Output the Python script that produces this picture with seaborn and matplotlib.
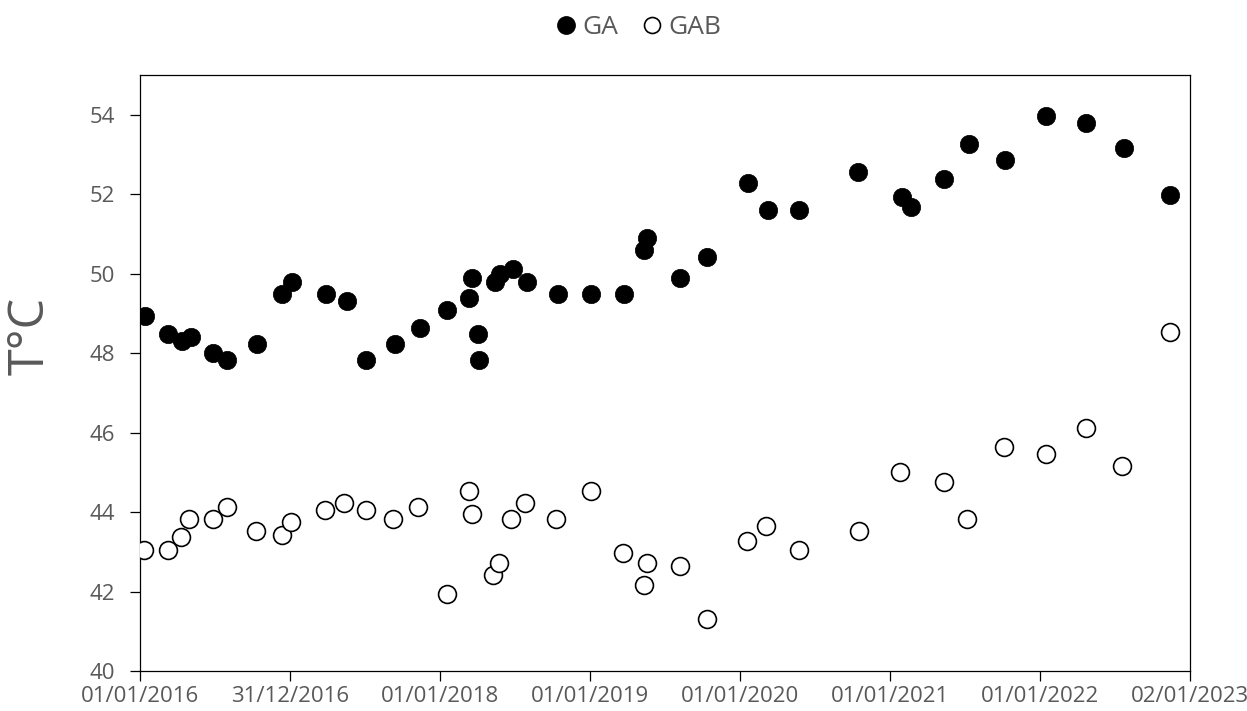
import matplotlib
matplotlib.use("Agg")
import matplotlib.pyplot as plt
import matplotlib.dates as mdates
from matplotlib.lines import Line2D
import numpy as np
import pandas as pd
import seaborn as sns

# ---- data ----
ga_dates = ["2016-01-13", "2016-03-10", "2016-04-12", "2016-05-04", "2016-06-28",
            "2016-08-01", "2016-10-13", "2016-12-11", "2017-01-06", "2017-03-28",
            "2017-05-19", "2017-07-04", "2017-09-13", "2017-11-13", "2018-01-17",
            "2018-03-12", "2018-03-21", "2018-04-03", "2018-04-07", "2018-05-15",
            "2018-05-27", "2018-06-27", "2018-07-31", "2018-10-15", "2019-01-04",
            "2019-03-25", "2019-05-13", "2019-05-21", "2019-08-09", "2019-10-13",
            "2020-01-22", "2020-03-09", "2020-05-24", "2020-10-16", "2021-01-31",
            "2021-02-21", "2021-05-13", "2021-07-12", "2021-10-09", "2022-01-15",
            "2022-04-23", "2022-07-25", "2022-11-14"]
ga_temp = [48.93, 48.48, 48.30, 48.40, 48.00,
           47.83, 48.23, 49.49, 49.80, 49.49,
           49.32, 47.83, 48.23, 48.63, 49.09,
           49.40, 49.89, 48.48, 47.83, 49.78,
           49.99, 50.12, 49.80, 49.49, 49.49,
           49.49, 50.60, 50.91, 49.89, 50.41,
           52.29, 51.60, 51.60, 52.56, 51.92,
           51.68, 52.39, 53.27, 52.87, 53.97,
           53.80, 53.17, 51.98]

gab_dates = ["2016-01-11", "2016-03-10", "2016-04-09", "2016-04-30", "2016-06-28",
             "2016-08-01", "2016-10-09", "2016-12-11", "2017-01-02", "2017-03-27",
             "2017-05-13", "2017-07-04", "2017-09-09", "2017-11-08", "2018-01-18",
             "2018-03-12", "2018-03-21", "2018-05-11", "2018-05-24", "2018-06-23",
             "2018-07-27", "2018-10-10", "2019-01-04", "2019-03-22", "2019-05-12",
             "2019-05-20", "2019-08-09", "2019-10-13", "2020-01-18", "2020-03-05",
             "2020-05-25", "2020-10-17", "2021-01-26", "2021-05-13", "2021-07-08",
             "2021-10-05", "2022-01-15", "2022-04-23", "2022-07-21", "2022-11-14"]
gab_temp = [43.04, 43.04, 43.36, 43.83, 43.83,
            44.13, 43.52, 43.43, 43.75, 44.05,
            44.23, 44.05, 43.83, 44.13, 41.95,
            44.53, 43.96, 42.42, 42.72, 43.83,
            44.23, 43.83, 44.53, 42.96, 42.16,
            42.73, 42.65, 41.32, 43.26, 43.65,
            43.04, 43.53, 45.02, 44.75, 43.83,
            45.64, 45.45, 46.12, 45.15, 48.53]

x_tick_labels = ["01/01/2016", "31/12/2016", "01/01/2018", "01/01/2019",
                 "01/01/2020", "01/01/2021", "01/01/2022", "02/01/2023"]
y_ticks = [40, 42, 44, 46, 48, 50, 52, 54]
series_names = ["GA", "GAB"]
y_title = "T°C"
x_start, x_end = "2016-01-01", "2023-01-02"
y_min, y_max = 40, 55

# ---- style ----
sns.set_style("white")
plt.rcParams['font.family'] = ['Open Sans', 'DejaVu Sans']
text_grey = "#595959"

fig = plt.figure(figsize=(12.47, 7.11), dpi=100)
ax = fig.add_axes([140 / 1247, 40 / 711, 1050 / 1247, 596 / 711])

df_ga = pd.DataFrame({"date": pd.to_datetime(ga_dates), "temp": ga_temp})
df_gab = pd.DataFrame({"date": pd.to_datetime(gab_dates), "temp": gab_temp})

sns.scatterplot(data=df_ga, x="date", y="temp", ax=ax, s=175,
                color="black", edgecolor="black", linewidth=0.5, zorder=3)
sns.scatterplot(data=df_gab, x="date", y="temp", ax=ax, s=165,
                facecolor="white", edgecolor="black", linewidth=1.2, zorder=3)

start = pd.Timestamp(x_start)
end = pd.Timestamp(x_end)
ax.set_xlim(start, end)
xt = np.linspace(mdates.date2num(start), mdates.date2num(end), len(x_tick_labels))
ax.set_xticks(xt)
ax.set_xticklabels(x_tick_labels)
ax.set_ylim(y_min, y_max)
ax.set_yticks(y_ticks)
ax.set_yticklabels([str(v) for v in y_ticks])

for sp in ax.spines.values():
    sp.set_visible(True)
    sp.set_color("black")
    sp.set_linewidth(0.9)

ax.tick_params(axis="both", which="major", direction="out", length=7, width=0.9,
               color="black", labelcolor=text_grey, labelsize=16,
               bottom=True, left=True)
ax.tick_params(axis="y", pad=11)
ax.tick_params(axis="x", pad=4)

ax.set_xlabel("")
ax.set_ylabel("")
fig.text(31 / 1247, 1 - 336 / 711, y_title, rotation=90, ha="center", va="center",
         fontsize=35, color=text_grey)

handles = [
    Line2D([], [], linestyle="none", marker="o", markersize=12.5,
           markerfacecolor="black", markeredgecolor="black"),
    Line2D([], [], linestyle="none", marker="o", markersize=11.5,
           markerfacecolor="white", markeredgecolor="black", markeredgewidth=1.2),
]
fig.legend(handles, series_names, loc="center",
           bbox_to_anchor=(637 / 1247, 1 - 28 / 711), ncol=2, frameon=False,
           fontsize=19, labelcolor=text_grey, handletextpad=0.1,
           columnspacing=0.8, handlelength=1.0)

fig.savefig("out.png", dpi=100)
